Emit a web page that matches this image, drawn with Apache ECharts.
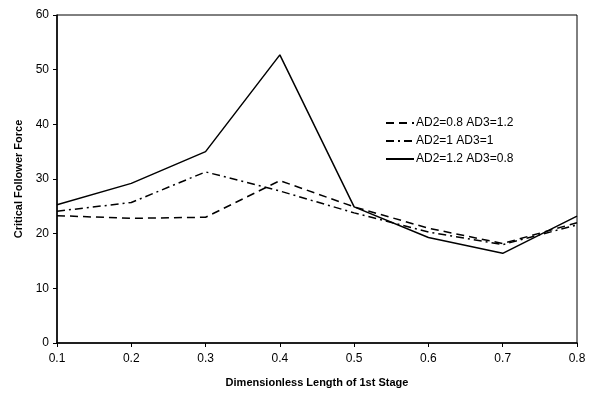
<!DOCTYPE html>
<html><head><meta charset="utf-8">
<script src="https://cdn.jsdelivr.net/npm/echarts@6/dist/echarts.min.js"></script>
<style>html,body{margin:0;padding:0;background:#fff}#c{width:591px;height:396px}</style>
</head><body><div id="c"></div>
<script>
const categories = ['0.1','0.2','0.3','0.4','0.5','0.6','0.7','0.8'];
const seriesNames = ['AD2=0.8 AD3=1.2','AD2=1 AD3=1','AD2=1.2 AD3=0.8'];
const ad08 = [23.3, 22.8, 23.0, 29.7, 24.9, 21.0, 18.2, 22.0];
const ad10 = [24.1, 25.7, 31.3, 27.8, 23.8, 20.3, 18.0, 21.6];
const ad12 = [25.3, 29.2, 35.0, 52.7, 24.9, 19.3, 16.4, 23.2];
const yTicks = {min: 0, max: 60, interval: 10};

const chart = echarts.init(document.getElementById('c'));
const font = 'Arial, "Liberation Sans", sans-serif';
function mk(name, data, type) {
  return {name, type: 'line', data, symbol: 'none', animation: false,
    lineStyle: {color: '#000', width: 1.5, type}, itemStyle: {color: '#000'}};
}
chart.setOption({
  animation: false,
  grid: {left: 57, right: 14, top: 15, bottom: 53, show: true, borderColor: '#000', borderWidth: 1, backgroundColor: '#fff'},
  legend: {orient: 'vertical', left: 380, top: 112, itemWidth: 28, itemHeight: 12, itemGap: 6,
    itemStyle: {opacity: 0},
    textStyle: {fontFamily: font, fontSize: 12, color: '#000', padding: [0, 0, 0, -3]},
    data: seriesNames},
  xAxis: {type: 'category', data: categories, boundaryGap: false,
    name: 'Dimensionless Length of 1st Stage', nameLocation: 'middle', nameGap: 34,
    nameTextStyle: {fontFamily: font, fontSize: 11, fontWeight: 'bold', color: '#000'},
    axisLine: {lineStyle: {color: '#000', width: 1.5}},
    axisTick: {show: true, length: 4, lineStyle: {color: '#000'}},
    axisLabel: {fontFamily: font, fontSize: 12, color: '#000', margin: 10},
    splitLine: {show: false}},
  yAxis: {type: 'value', min: yTicks.min, max: yTicks.max, interval: yTicks.interval,
    name: 'Critical Follower Force', nameLocation: 'middle', nameGap: 25,
    nameTextStyle: {fontFamily: font, fontSize: 11, fontWeight: 'bold', color: '#000'},
    axisLine: {show: true, lineStyle: {color: '#000', width: 1.5}},
    axisTick: {show: true, length: 4, lineStyle: {color: '#000'}},
    axisLabel: {fontFamily: font, fontSize: 12, color: '#000', margin: 8},
    splitLine: {show: false}},
  series: [
    mk(seriesNames[0], ad08, [8, 5]),
    mk(seriesNames[1], ad10, [8, 4, 2, 4]),
    mk(seriesNames[2], ad12, 'solid')
  ]
});
</script></body></html>
